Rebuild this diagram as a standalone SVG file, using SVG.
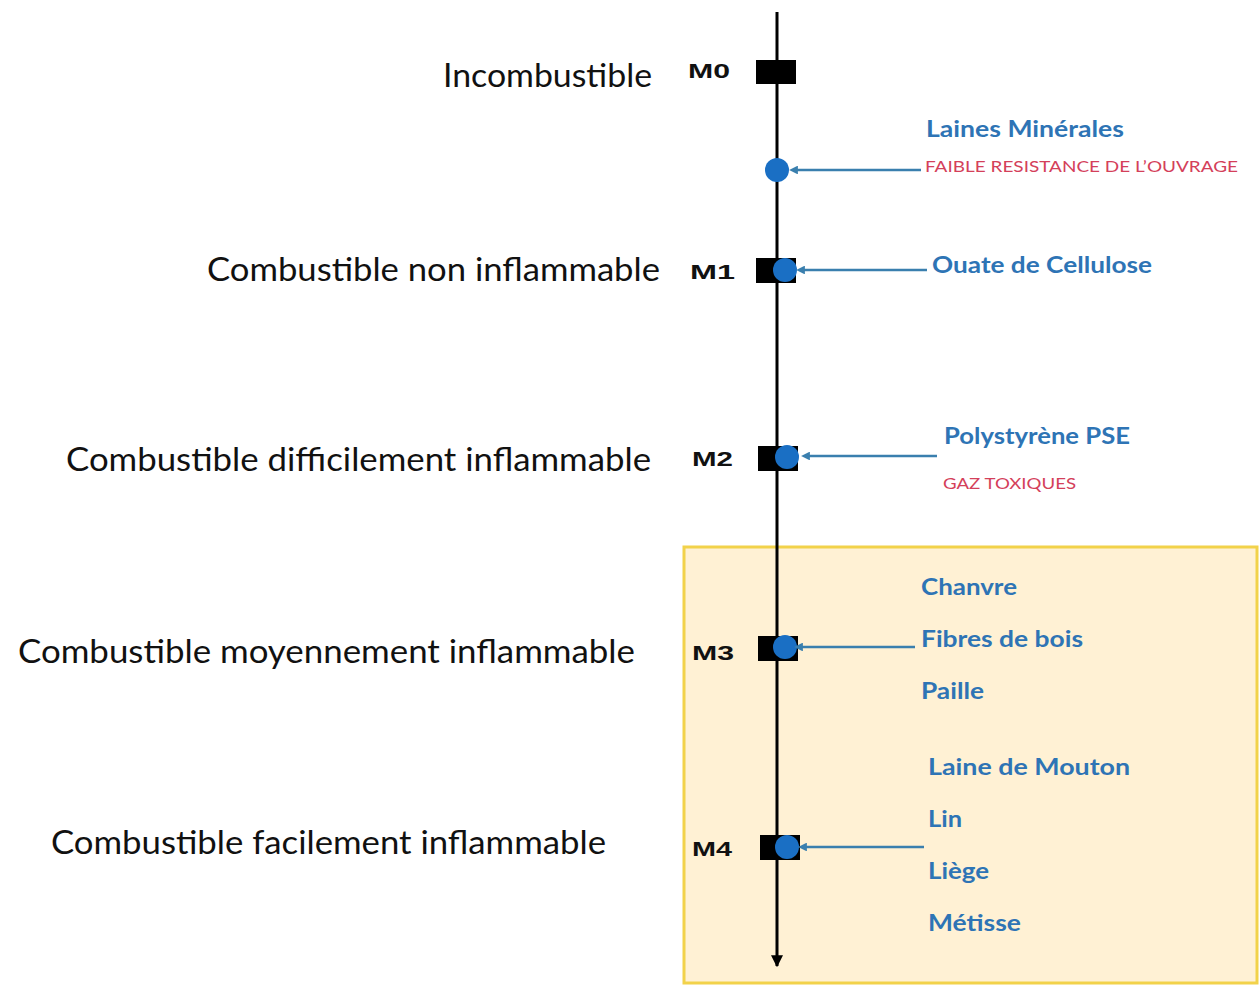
<svg xmlns="http://www.w3.org/2000/svg" width="1260" height="985" viewBox="0 0 1260 985">
<style>
.lbl{font-family:Lato,"Open Sans","Liberation Sans",sans-serif;font-size:33px;fill:#111}
.lvl{font-family:"Liberation Sans",Arial,sans-serif;font-size:20px;font-weight:bold;fill:#111}
.mat{font-family:Lato,"Liberation Sans",sans-serif;font-size:22px;font-weight:bold;fill:#2e74b5}
.warn{font-family:Lato,"Liberation Sans",sans-serif;font-size:16px;fill:#d4405a}
.sq{fill:#000}
.dot{fill:#1a6fc4}
.con{stroke:#3a7fae;stroke-width:2.5;fill:none}
</style>
<defs>
<marker id="ah" viewBox="0 0 10 10" refX="1" refY="5" markerWidth="3.5" markerHeight="3.5" orient="auto" markerUnits="strokeWidth">
<path d="M0,0 L10,5 L0,10 z" fill="#3a7fae"/>
</marker>
<marker id="axh" viewBox="0 0 10 10" refX="9" refY="5" markerWidth="4" markerHeight="4" orient="auto" markerUnits="strokeWidth">
<path d="M0,0 L10,5 L0,10 z" fill="#000"/>
</marker>
</defs>
<rect id="zone" x="684" y="547" width="573" height="436" fill="#fff1d4" stroke="#f2d24a" stroke-width="3"/>
<g id="axis">
<line x1="777" y1="12" x2="777" y2="966" stroke="#000" stroke-width="3" marker-end="url(#axh)"/>
</g>
<g id="M0">
<text class="lbl" x="443" y="87" textLength="209" lengthAdjust="spacingAndGlyphs">Incombustible</text>
<text class="lvl" x="688" y="78" textLength="42" lengthAdjust="spacingAndGlyphs">M0</text>
<rect class="sq" x="756" y="60" width="40" height="24"/>
</g>
<g id="LM">
<circle class="dot" cx="777" cy="170" r="12"/>
<text class="mat" x="926" y="137" textLength="198" lengthAdjust="spacingAndGlyphs">Laines Minérales</text>
<text class="warn" x="925" y="172" textLength="313" lengthAdjust="spacingAndGlyphs">FAIBLE RESISTANCE DE L’OUVRAGE</text>
</g>
<g id="M1">
<text class="lbl" x="207" y="281" textLength="453" lengthAdjust="spacingAndGlyphs">Combustible non inflammable</text>
<text class="lvl" x="690" y="279" textLength="45" lengthAdjust="spacingAndGlyphs">M1</text>
<rect class="sq" x="756" y="258" width="40" height="25"/>
<circle class="dot" cx="785" cy="270" r="12"/>
<text class="mat" x="932" y="273" textLength="220" lengthAdjust="spacingAndGlyphs">Ouate de Cellulose</text>
</g>
<g id="M2">
<text class="lbl" x="66" y="471" textLength="585" lengthAdjust="spacingAndGlyphs">Combustible difficilement inflammable</text>
<text class="lvl" x="692" y="466" textLength="41" lengthAdjust="spacingAndGlyphs">M2</text>
<rect class="sq" x="758" y="446" width="40" height="25"/>
<circle class="dot" cx="787" cy="457" r="12"/>
<text class="mat" x="944" y="444" textLength="186" lengthAdjust="spacingAndGlyphs">Polystyrène PSE</text>
<text class="warn" x="943" y="489" textLength="133" lengthAdjust="spacingAndGlyphs">GAZ TOXIQUES</text>
</g>
<g id="M3">
<text class="lbl" x="18" y="663" textLength="617" lengthAdjust="spacingAndGlyphs">Combustible moyennement inflammable</text>
<text class="lvl" x="692" y="660" textLength="42" lengthAdjust="spacingAndGlyphs">M3</text>
<rect class="sq" x="758" y="636" width="40" height="25"/>
<circle class="dot" cx="785" cy="647" r="12"/>
<text class="mat" x="921" y="595" textLength="96" lengthAdjust="spacingAndGlyphs">Chanvre</text>
<text class="mat" x="921" y="647" textLength="162" lengthAdjust="spacingAndGlyphs">Fibres de bois</text>
<text class="mat" x="921" y="699" textLength="63" lengthAdjust="spacingAndGlyphs">Paille</text>
</g>
<g id="M4">
<text class="lbl" x="51" y="854" textLength="555" lengthAdjust="spacingAndGlyphs">Combustible facilement inflammable</text>
<text class="lvl" x="692" y="856" textLength="40" lengthAdjust="spacingAndGlyphs">M4</text>
<rect class="sq" x="760" y="835" width="40" height="25"/>
<circle class="dot" cx="787" cy="847" r="12"/>
<text class="mat" x="928" y="775" textLength="202" lengthAdjust="spacingAndGlyphs">Laine de Mouton</text>
<text class="mat" x="928" y="827" textLength="34" lengthAdjust="spacingAndGlyphs">Lin</text>
<text class="mat" x="928" y="879" textLength="61" lengthAdjust="spacingAndGlyphs">Liège</text>
<text class="mat" x="928" y="931" textLength="93" lengthAdjust="spacingAndGlyphs">Métisse</text>
</g>
<g id="connectors">
<line class="con" x1="921" y1="170" x2="797" y2="170" marker-end="url(#ah)"/>
<line class="con" x1="927" y1="270" x2="804" y2="270" marker-end="url(#ah)"/>
<line class="con" x1="937" y1="456" x2="809" y2="456" marker-end="url(#ah)"/>
<line class="con" x1="915" y1="647" x2="802" y2="647" marker-end="url(#ah)"/>
<line class="con" x1="924" y1="847" x2="806" y2="847" marker-end="url(#ah)"/>
</g>
</svg>
